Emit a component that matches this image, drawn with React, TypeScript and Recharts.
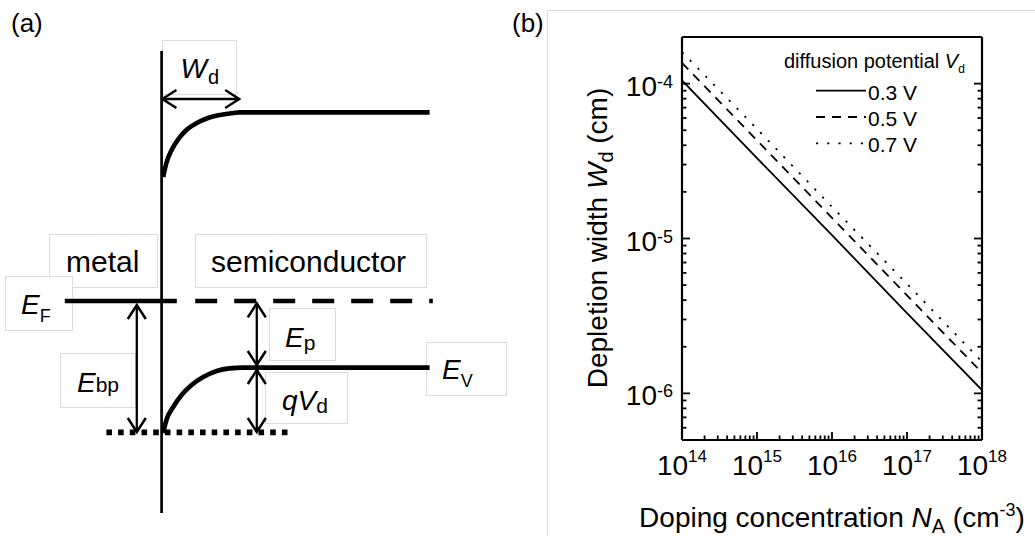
import React from "react";
import { LineChart, Line, XAxis, YAxis, Legend } from "recharts";

const FONT = '"Liberation Sans", Arial, Helvetica, sans-serif';
const BOX = "#dcdcdc";

// ---------- panel (a): band diagram (x in units of W_d, energy in eV from E_F) ----------
const interfaceX = [0, 0];
const interfaceE = [1.25, -1.06];
const cbX = [0.02, 0.06, 0.125, 0.21, 0.31, 0.44, 0.58, 0.73, 0.9, 0.98, 3.35];
const cbE = [0.62, 0.69, 0.755, 0.81, 0.855, 0.89, 0.915, 0.93, 0.94, 0.943, 0.943];
const vbX = [0.02, 0.06, 0.145, 0.25, 0.375, 0.52, 0.69, 0.85, 1.02, 1.19, 3.35];
const vbE = [-0.66, -0.595, -0.53, -0.47, -0.42, -0.38, -0.35, -0.337, -0.333, -0.333, -0.333];
const efMetalX = [-1.21, 0.19];
const efSemiX = [0.42, 3.39];
const efLevel = 0;
const vbSurfaceX = [-0.69, 1.63];
const vbSurfaceLevel = -0.657;
const wdArrowX = [0.01, 0.97];
const wdArrowLevel = 1.01;
const ebpArrowX = -0.31;
const ebpArrowE = [-0.02, -0.655];
const bendArrowX = 1.19;
const epArrowE = [-0.012, -0.32];
const qvdArrowE = [-0.345, -0.655];

// ---------- panel (b): depletion width vs doping ----------
const dopingConc = [1e14, 1e15, 1e16, 1e17, 1e18];
const wd03 = [1.05e-4, 3.3e-5, 1.05e-5, 3.3e-6, 1.05e-6];
const wd05 = [1.36e-4, 4.3e-5, 1.36e-5, 4.3e-6, 1.36e-6];
const wd07 = [1.6e-4, 5.1e-5, 1.6e-5, 5.1e-6, 1.6e-6];
const seriesNames = ["0.3 V", "0.5 V", "0.7 V"];
const seriesDash = ["0", "9 7", "2.2 9"];

const xMajorTicks = [1e14, 1e15, 1e16, 1e17, 1e18];
const xMajorExp = ["14", "15", "16", "17", "18"];
const xMinorTicks = [
  2e14, 3e14, 4e14, 5e14, 6e14, 7e14, 8e14, 9e14,
  2e15, 3e15, 4e15, 5e15, 6e15, 7e15, 8e15, 9e15,
  2e16, 3e16, 4e16, 5e16, 6e16, 7e16, 8e16, 9e16,
  2e17, 3e17, 4e17, 5e17, 6e17, 7e17, 8e17, 9e17,
];
const yMajorTicks = [1e-6, 1e-5, 1e-4];
const yMajorExp = ["-6", "-5", "-4"];
const yMinorTicks = [
  6e-7, 7e-7, 8e-7, 9e-7,
  2e-6, 3e-6, 4e-6, 5e-6, 6e-6, 7e-6, 8e-6, 9e-6,
  2e-5, 3e-5, 4e-5, 5e-5, 6e-5, 7e-5, 8e-5, 9e-5,
];

const toRows = (xs: number[], es: number[]) => xs.map((x, i) => ({ x, e: es[i] }));
const flat = (xs: number[], e: number) => xs.map((x) => ({ x, e }));
const vert = (x: number, es: number[]) => es.map((e) => ({ x, e }));

const wdRows = dopingConc.map((n, i) => ({ n, w03: wd03[i], w05: wd05[i], w07: wd07[i] }));

const frameLine = { stroke: "#000", strokeWidth: 2.2 };

function XTick(props: any) {
  const { x, y, payload } = props;
  const i = xMajorTicks.indexOf(payload.value);
  const major = i >= 0;
  return (
    <g>
      <line x1={x} x2={x} y1={y} y2={y - (major ? 8 : 4.5)} stroke="#000" strokeWidth={1.8} />
      {major && (
        <text x={x} y={y + 35} textAnchor="middle" fontFamily={FONT} fontSize={28} fill="#000">
          10<tspan dy={-13} fontSize={17}>{xMajorExp[i]}</tspan>
        </text>
      )}
    </g>
  );
}

function YTickLeft(props: any) {
  const { x, y, payload } = props;
  const i = yMajorTicks.indexOf(payload.value);
  const major = i >= 0;
  return (
    <g>
      <line x1={x} x2={x + (major ? 8 : 4.5)} y1={y} y2={y} stroke="#000" strokeWidth={1.8} />
      {major && (
        <text x={x - 9} y={y + 12} textAnchor="end" fontFamily={FONT} fontSize={28} fill="#000">
          10<tspan dy={-8} fontSize={18}>{yMajorExp[i]}</tspan>
        </text>
      )}
    </g>
  );
}

function YTickRight(props: any) {
  const { x, y, payload } = props;
  const major = yMajorTicks.indexOf(payload.value) >= 0;
  return <line x1={x} x2={x - (major ? 8 : 4.5)} y1={y} y2={y} stroke="#000" strokeWidth={1.8} />;
}

function LegendBox(props: any) {
  const items = props.payload ?? [];
  return (
    <svg width={240} height={125} style={{ display: "block", overflow: "visible" }}>
      <text x={24} y={28} fontFamily={FONT} fontSize={20} fill="#000">
        diffusion potential <tspan fontStyle="italic">V</tspan>
        <tspan dy={5} fontSize={12}>d</tspan>
      </text>
      {items.map((it: any, i: number) => {
        const y = 50.7 + i * 26.3;
        const dash = it.payload?.strokeDasharray ?? seriesDash[i];
        return (
          <g key={it.value}>
            <line x1={56} x2={106} y1={y} y2={y} stroke="#000" strokeWidth={1.8} strokeDasharray={dash} />
            <text x={108} y={y + 9} fontFamily={FONT} fontSize={21} fill="#000">
              {it.value}
            </text>
          </g>
        );
      })}
    </svg>
  );
}

const lineBase = {
  stroke: "#000",
  dot: false,
  activeDot: false,
  isAnimationActive: false,
  legendType: "none" as const,
};

function Overlay() {
  const rect = (x: number, y: number, w: number, h: number) => (
    <rect x={x + 0.5} y={y + 0.5} width={w} height={h} fill="#fff" stroke={BOX} strokeWidth={1} />
  );
  const t = { fontFamily: FONT, fill: "#000" };
  return (
    <svg width={1035} height={536} style={{ position: "absolute", left: 0, top: 0 }}>
      <defs>
        <marker
          id="arrowHead"
          viewBox="-18 -12 21 24"
          refX={0}
          refY={0}
          markerWidth={21}
          markerHeight={24}
          markerUnits="userSpaceOnUse"
          orient="auto-start-reverse"
        >
          <path d="M-14,-9 L0,0 L-14,9" fill="none" stroke="#000" strokeWidth={2.5} />
        </marker>
      </defs>
      {/* panel (b) frame */}
      <line x1={547.5} x2={1035} y1={10.5} y2={10.5} stroke={BOX} />
      <line x1={547.5} x2={547.5} y1={10.5} y2={536} stroke={BOX} />

      {/* panel (a) text boxes */}
      {rect(162, 40, 74, 54)}
      {rect(49, 234, 108, 53)}
      {rect(5, 276, 67, 54)}
      {rect(195, 234, 231, 53)}
      {rect(269, 308, 66, 52)}
      {rect(60, 353, 75, 54)}
      {rect(265, 372, 82, 51)}
      {rect(426, 342, 80, 53)}

      <text x={11} y={32} fontSize={26} {...t}>(a)</text>
      <text x={512} y={32} fontSize={26} {...t}>(b)</text>

      <text x={180.5} y={78} fontSize={28} {...t}>
        <tspan fontStyle="italic">W</tspan>
        <tspan dx={1} dy={6} fontSize={20}>d</tspan>
      </text>
      <text x={66} y={272} fontSize={30} {...t}>metal</text>
      <text x={211} y={272} fontSize={30} {...t}>semiconductor</text>
      <text x={21} y={314} fontSize={28} {...t}>
        <tspan fontStyle="italic">E</tspan>
        <tspan dy={7.5} fontSize={18}>F</tspan>
      </text>
      <text x={77} y={391.5} fontSize={28} {...t}>
        <tspan fontStyle="italic">E</tspan>
        <tspan fontSize={21}>bp</tspan>
      </text>
      <text x={285} y={346.5} fontSize={28} {...t}>
        <tspan fontStyle="italic">E</tspan>
        <tspan dy={3} fontSize={21}>p</tspan>
      </text>
      <text x={282} y={410} fontSize={28} {...t}>
        <tspan fontStyle="italic">qV</tspan>
        <tspan dy={3} fontSize={21}>d</tspan>
      </text>
      <text x={442} y={378.5} fontSize={28} {...t}>
        <tspan fontStyle="italic">E</tspan>
        <tspan dy={8.5} fontSize={18}>V</tspan>
      </text>

      {/* panel (b) axis titles */}
      <text x={832} y={527} textAnchor="middle" fontSize={28} {...t}>
        Doping concentration <tspan fontStyle="italic">N</tspan>
        <tspan dy={6} fontSize={20}>A</tspan>
        <tspan dy={-6}> (cm</tspan>
        <tspan dy={-11} fontSize={18}>-3</tspan>
        <tspan dy={11}>)</tspan>
      </text>
      <text x={607} y={238} textAnchor="middle" fontSize={28} transform="rotate(-90 607 238)" {...t}>
        Depletion width <tspan fontStyle="italic">W</tspan>
        <tspan dy={6} fontSize={20}>d</tspan>
        <tspan dy={-6}> (cm)</tspan>
      </text>
    </svg>
  );
}

function BandDiagram() {
  return (
    <LineChart width={481.6} height={536} margin={{ top: 0, right: 0, bottom: 0, left: 0 }}>
      <XAxis type="number" dataKey="x" domain={[-2.02, 4.0]} allowDataOverflow hide />
      <YAxis type="number" domain={[-1.175, 1.505]} allowDataOverflow hide />
      <Line {...lineBase} data={toRows(interfaceX, interfaceE)} dataKey="e" type="linear" strokeWidth={2.7} />
      <Line {...lineBase} data={toRows(cbX, cbE)} dataKey="e" type="monotone" strokeWidth={4.6} />
      <Line {...lineBase} data={toRows(vbX, vbE)} dataKey="e" type="monotone" strokeWidth={4.6} />
      <Line {...lineBase} data={flat(efMetalX, efLevel)} dataKey="e" type="linear" strokeWidth={4.7} />
      <Line
        {...lineBase}
        data={flat(efSemiX, efLevel)}
        dataKey="e"
        type="linear"
        strokeWidth={4.7}
        strokeDasharray="22 17"
      />
      <Line
        {...lineBase}
        data={flat(vbSurfaceX, vbSurfaceLevel)}
        dataKey="e"
        type="linear"
        strokeWidth={5.6}
        strokeDasharray="5.6 6.1"
      />
      <Line
        {...lineBase}
        data={flat(wdArrowX, wdArrowLevel)}
        dataKey="e"
        type="linear"
        strokeWidth={2.3}
        markerStart="url(#arrowHead)"
        markerEnd="url(#arrowHead)"
      />
      <Line
        {...lineBase}
        data={vert(ebpArrowX, ebpArrowE)}
        dataKey="e"
        type="linear"
        strokeWidth={2.3}
        markerStart="url(#arrowHead)"
        markerEnd="url(#arrowHead)"
      />
      <Line
        {...lineBase}
        data={vert(bendArrowX, epArrowE)}
        dataKey="e"
        type="linear"
        strokeWidth={2.3}
        markerStart="url(#arrowHead)"
        markerEnd="url(#arrowHead)"
      />
      <Line
        {...lineBase}
        data={vert(bendArrowX, qvdArrowE)}
        dataKey="e"
        type="linear"
        strokeWidth={2.3}
        markerStart="url(#arrowHead)"
        markerEnd="url(#arrowHead)"
      />
    </LineChart>
  );
}

function DepletionChart() {
  const xTicks = [...xMajorTicks, ...xMinorTicks];
  const yTicks = [...yMajorTicks, ...yMinorTicks];
  const keys = ["w03", "w05", "w07"];
  return (
    <LineChart width={1035} height={536} data={wdRows} margin={{ top: 36, right: 52, bottom: 36, left: 622 }}>
      <XAxis
        dataKey="n"
        type="number"
        scale="log"
        domain={[1e14, 1e18]}
        allowDataOverflow
        ticks={xTicks}
        interval={0}
        tick={XTick}
        tickLine={false}
        tickSize={0}
        tickMargin={0}
        height={60}
        axisLine={frameLine}
      />
      <XAxis
        xAxisId="top"
        orientation="top"
        dataKey="n"
        type="number"
        scale="log"
        domain={[1e14, 1e18]}
        allowDataOverflow
        tick={false}
        tickLine={false}
        height={1}
        axisLine={frameLine}
      />
      <YAxis
        type="number"
        scale="log"
        domain={[5e-7, 2e-4]}
        allowDataOverflow
        ticks={yTicks}
        interval={0}
        tick={YTickLeft}
        tickLine={false}
        tickSize={0}
        tickMargin={0}
        width={60}
        axisLine={frameLine}
      />
      <YAxis
        yAxisId="right"
        orientation="right"
        type="number"
        scale="log"
        domain={[5e-7, 2e-4]}
        allowDataOverflow
        ticks={yTicks}
        interval={0}
        tick={YTickRight}
        tickLine={false}
        tickSize={0}
        tickMargin={0}
        width={1}
        axisLine={frameLine}
      />
      {keys.map((k, i) => (
        <Line
          key={k}
          dataKey={k}
          name={seriesNames[i]}
          type="linear"
          stroke="#000"
          strokeWidth={1.8}
          strokeDasharray={seriesDash[i]}
          dot={false}
          activeDot={false}
          isAnimationActive={false}
        />
      ))}
      <Legend
        content={LegendBox}
        layout="horizontal"
        verticalAlign="middle"
        align="center"
        wrapperStyle={{ left: 760, top: 40, width: 240, height: 125 }}
      />
    </LineChart>
  );
}

export default function App() {
  return (
    <div style={{ position: "absolute", left: 0, top: 0, width: 1035, height: 536, background: "#fff" }}>
      <Overlay />
      <div style={{ position: "absolute", left: 0, top: 0 }}>
        <BandDiagram />
      </div>
      <div style={{ position: "absolute", left: 0, top: 0 }}>
        <DepletionChart />
      </div>
    </div>
  );
}
